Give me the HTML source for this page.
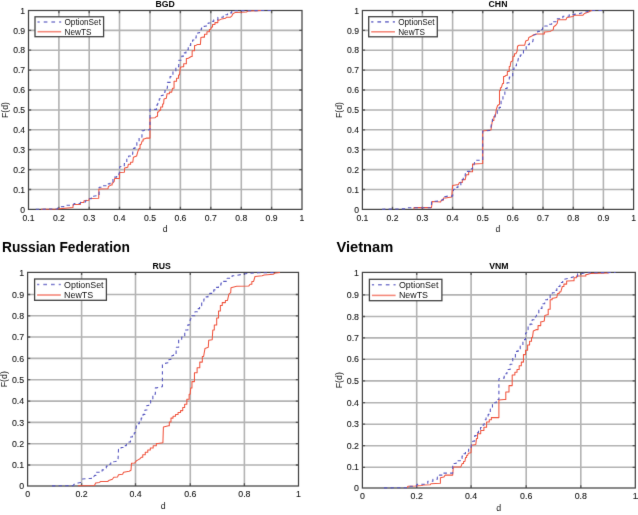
<!DOCTYPE html>
<html><head><meta charset="utf-8"><title>CDF plots</title>
<style>
html,body{margin:0;padding:0;background:#fff;}
body{width:638px;height:515px;overflow:hidden;}
svg{display:block;font-family:"Liberation Sans",sans-serif;}
</style></head><body>
<svg width="638" height="515" viewBox="0 0 638 515">
<defs><filter id="soft" x="0" y="0" width="100%" height="100%" color-interpolation-filters="sRGB"><feConvolveMatrix order="3" kernelMatrix="0.00524 0.06192 0.00524 0.06192 0.73137 0.06192 0.00524 0.06192 0.00524" edgeMode="duplicate" preserveAlpha="false"/></filter></defs>
<rect width="638" height="515" fill="#fff"/>
<g filter="url(#soft)">
<path d="M58.9 10.5V209.4M89.2 10.5V209.4M119.5 10.5V209.4M150.0 10.5V209.4M180.4 10.5V209.4M210.8 10.5V209.4M241.3 10.5V209.4M271.6 10.5V209.4M28.5 189.5H302.0M28.5 169.6H302.0M28.5 149.6H302.0M28.5 129.8H302.0M28.5 110.0H302.0M28.5 90.0H302.0M28.5 70.1H302.0M28.5 50.2H302.0M28.5 30.4H302.0" stroke="#b3b3b3" stroke-width="1.6" fill="none"/>
<path d="M58.9 209.4v-2.7M58.9 10.5v2.7M89.2 209.4v-2.7M89.2 10.5v2.7M119.5 209.4v-2.7M119.5 10.5v2.7M150.0 209.4v-2.7M150.0 10.5v2.7M180.4 209.4v-2.7M180.4 10.5v2.7M210.8 209.4v-2.7M210.8 10.5v2.7M241.3 209.4v-2.7M241.3 10.5v2.7M271.6 209.4v-2.7M271.6 10.5v2.7M28.5 189.5h2.7M302.0 189.5h-2.7M28.5 169.6h2.7M302.0 169.6h-2.7M28.5 149.6h2.7M302.0 149.6h-2.7M28.5 129.8h2.7M302.0 129.8h-2.7M28.5 110.0h2.7M302.0 110.0h-2.7M28.5 90.0h2.7M302.0 90.0h-2.7M28.5 70.1h2.7M302.0 70.1h-2.7M28.5 50.2h2.7M302.0 50.2h-2.7M28.5 30.4h2.7M302.0 30.4h-2.7" stroke="#5a5a5a" stroke-width="1.3" fill="none"/>
<rect x="28.5" y="10.5" width="273.5" height="198.9" fill="none" stroke="#444444" stroke-width="1.25"/>
<polyline points="41.00,209.30 57.00,209.00 73.00,207.50 73.00,204.60 80.40,204.50 80.60,202.60 83.80,202.50 84.00,200.70 88.90,200.30 89.30,198.40 98.70,198.20 98.90,189.00 108.00,188.70 108.40,186.50 111.30,184.90 112.10,184.90 112.10,182.90 112.90,182.90 114.20,181.40 114.60,178.60 119.50,178.40 119.60,172.40 124.40,172.20 124.60,168.00 127.70,167.30 128.40,164.20 130.60,164.20 130.60,162.30 132.80,162.30 133.40,157.20 136.60,156.00 137.80,151.60 139.10,148.40 140.05,148.40 140.05,144.60 141.00,144.60 142.20,140.90 143.15,140.90 143.15,139.00 144.10,139.00 146.70,138.10 150.00,138.10 150.00,118.00 155.10,117.70 156.60,116.30 157.55,116.30 157.55,112.00 158.50,112.00 159.70,110.10 160.67,110.10 160.67,107.00 162.62,107.00 162.62,103.90 163.60,103.90 164.00,99.10 166.30,98.30 167.10,93.70 169.40,93.70 169.40,92.10 171.70,92.10 172.50,88.30 174.05,88.30 174.05,81.30 175.60,81.30 176.57,81.30 176.57,78.15 178.53,78.15 178.53,75.00 179.50,75.00 180.40,67.30 182.50,66.70 183.70,66.70 183.70,63.70 184.90,63.70 186.35,63.70 186.35,58.50 187.80,58.50 188.70,58.00 191.20,56.50 192.15,56.50 192.15,50.70 193.10,50.70 194.55,50.70 194.55,45.40 196.00,45.40 197.50,44.40 200.40,44.40 200.90,37.60 203.30,37.10 204.50,37.10 204.50,34.20 205.70,34.20 206.95,34.20 206.95,31.80 208.20,31.80 209.40,31.80 209.40,29.40 210.60,29.40 211.60,26.90 212.55,26.90 212.55,24.50 213.50,24.50 214.95,24.50 214.95,22.60 216.40,22.60 217.85,22.60 217.85,20.10 219.30,20.10 221.70,18.90 225.60,18.20 226.60,17.20 230.50,17.20 231.90,15.80 232.90,13.80 235.30,12.40 246.50,12.00 247.90,11.10 261.00,10.50" fill="none" stroke="#f0553f" stroke-width="1.05" stroke-linejoin="round"/>
<polyline points="35.80,209.30 57.50,208.90 58.50,206.80 65.50,206.60 66.00,205.30 73.50,205.20 74.00,203.60 80.20,203.40 80.60,202.20 85.50,202.00 86.00,200.40 88.40,200.00 89.30,198.80 91.30,198.80 91.30,196.20 93.30,196.20 99.10,195.50 99.10,187.30 102.75,187.30 102.75,185.70 106.40,185.70 107.62,185.70 107.62,183.85 110.08,183.85 110.08,182.00 111.30,182.00 112.95,182.00 112.95,177.10 114.60,177.10 116.65,177.10 116.65,174.70 118.70,174.70 119.50,172.20 119.70,166.70 122.70,166.40 124.30,166.40 124.30,163.50 125.90,163.50 126.80,163.50 126.80,157.90 127.70,157.90 128.65,157.90 128.65,156.00 130.55,156.00 130.55,154.10 131.50,154.10 132.75,154.10 132.75,148.40 134.00,148.40 134.95,148.40 134.95,145.25 136.85,145.25 136.85,142.10 137.80,142.10 139.10,142.10 139.10,137.10 140.40,137.10 141.95,137.10 141.95,130.80 143.50,130.80 144.80,130.10 150.00,129.80 150.00,109.40 155.50,109.40 156.50,109.40 156.50,105.10 157.50,105.10 158.10,102.20 159.25,102.20 159.25,98.70 160.40,98.70 161.28,98.70 161.28,95.50 163.03,95.50 163.03,92.30 163.90,92.30 165.05,92.30 165.05,88.20 166.20,88.20 167.40,88.20 167.40,82.40 168.60,82.40 170.05,82.40 170.05,76.60 171.50,76.60 172.95,76.60 172.95,71.90 174.40,71.90 175.85,71.90 175.85,66.70 177.30,66.70 178.75,66.70 178.75,60.20 180.20,60.20 181.80,60.20 181.80,56.10 183.40,56.10 184.25,56.10 184.25,52.90 185.95,52.90 185.95,49.70 186.80,49.70 188.25,49.70 188.25,45.40 189.70,45.40 190.67,45.40 190.67,42.70 192.62,42.70 192.62,40.00 193.60,40.00 194.45,40.00 194.45,37.85 196.15,37.85 196.15,35.70 197.00,35.70 197.85,35.70 197.85,32.75 199.55,32.75 199.55,29.80 200.40,29.80 201.38,29.80 201.38,28.10 203.33,28.10 203.33,26.40 204.30,26.40 206.20,26.00 208.15,26.00 208.15,23.00 210.10,23.00 211.32,23.00 211.32,21.35 213.78,21.35 213.78,19.70 215.00,19.70 217.90,19.70 217.90,17.20 220.80,17.20 223.20,17.20 223.20,14.80 225.60,14.80 227.55,14.80 227.55,12.90 229.50,12.90 231.70,12.90 231.70,10.70 233.90,10.70 274.00,10.50" fill="none" stroke="#5858c0" stroke-width="1.1" stroke-dasharray="3.4,3.2" stroke-linejoin="round"/>
<g font-size="8.6" fill="#141414" stroke="#141414" stroke-width="0.1"><text x="28.5" y="220.7" text-anchor="middle">0.1</text><text x="58.9" y="220.7" text-anchor="middle">0.2</text><text x="89.2" y="220.7" text-anchor="middle">0.3</text><text x="119.5" y="220.7" text-anchor="middle">0.4</text><text x="150.0" y="220.7" text-anchor="middle">0.5</text><text x="180.4" y="220.7" text-anchor="middle">0.6</text><text x="210.8" y="220.7" text-anchor="middle">0.7</text><text x="241.3" y="220.7" text-anchor="middle">0.8</text><text x="271.6" y="220.7" text-anchor="middle">0.9</text><text x="302.0" y="220.7" text-anchor="middle">1</text><text x="25.1" y="212.5" text-anchor="end">0</text><text x="25.1" y="192.6" text-anchor="end">0.1</text><text x="25.1" y="172.7" text-anchor="end">0.2</text><text x="25.1" y="152.7" text-anchor="end">0.3</text><text x="25.1" y="132.9" text-anchor="end">0.4</text><text x="25.1" y="113.1" text-anchor="end">0.5</text><text x="25.1" y="93.1" text-anchor="end">0.6</text><text x="25.1" y="73.2" text-anchor="end">0.7</text><text x="25.1" y="53.3" text-anchor="end">0.8</text><text x="25.1" y="33.5" text-anchor="end">0.9</text><text x="25.1" y="13.6" text-anchor="end">1</text></g>
<text x="165.2" y="232.0" text-anchor="middle" font-size="8.6" fill="#141414">d</text>
<text transform="translate(7.7,110.0) rotate(-90)" text-anchor="middle" font-size="8.6" fill="#141414">F(d)</text>
<text x="165.2" y="6.6" text-anchor="middle" font-size="8.7" font-weight="bold" fill="#000">BGD</text>
<rect x="35.0" y="16.8" width="68.6" height="19.9" fill="#fff" stroke="#444444" stroke-width="1.3"/>
<path d="M37.5 22.0H61.2" stroke="#8080d0" stroke-width="1.6" stroke-dasharray="3.7,4" stroke-dashoffset="1.5"/>
<path d="M37.5 31.7H61.2" stroke="#f58a7c" stroke-width="1.6"/>
<text x="64.5" y="25.0" font-size="8.2" fill="#111">OptionSet</text>
<text x="64.5" y="34.7" font-size="8.2" fill="#111">NewTS</text>
<path d="M392.5 10.5V209.4M422.4 10.5V209.4M452.6 10.5V209.4M482.7 10.5V209.4M512.8 10.5V209.4M543.0 10.5V209.4M573.3 10.5V209.4M603.4 10.5V209.4M362.4 189.5H633.6M362.4 169.6H633.6M362.4 149.6H633.6M362.4 129.8H633.6M362.4 110.0H633.6M362.4 90.0H633.6M362.4 70.1H633.6M362.4 50.2H633.6M362.4 30.4H633.6" stroke="#b3b3b3" stroke-width="1.6" fill="none"/>
<path d="M392.5 209.4v-2.7M392.5 10.5v2.7M422.4 209.4v-2.7M422.4 10.5v2.7M452.6 209.4v-2.7M452.6 10.5v2.7M482.7 209.4v-2.7M482.7 10.5v2.7M512.8 209.4v-2.7M512.8 10.5v2.7M543.0 209.4v-2.7M543.0 10.5v2.7M573.3 209.4v-2.7M573.3 10.5v2.7M603.4 209.4v-2.7M603.4 10.5v2.7M362.4 189.5h2.7M633.6 189.5h-2.7M362.4 169.6h2.7M633.6 169.6h-2.7M362.4 149.6h2.7M633.6 149.6h-2.7M362.4 129.8h2.7M633.6 129.8h-2.7M362.4 110.0h2.7M633.6 110.0h-2.7M362.4 90.0h2.7M633.6 90.0h-2.7M362.4 70.1h2.7M633.6 70.1h-2.7M362.4 50.2h2.7M633.6 50.2h-2.7M362.4 30.4h2.7M633.6 30.4h-2.7" stroke="#5a5a5a" stroke-width="1.3" fill="none"/>
<rect x="362.4" y="10.5" width="271.2" height="198.9" fill="none" stroke="#444444" stroke-width="1.25"/>
<polyline points="414.00,209.20 414.00,207.60 431.50,207.60 432.20,201.50 440.60,202.00 441.30,200.10 443.40,200.10 443.40,198.00 445.50,198.00 451.70,197.10 452.60,185.40 458.40,184.50 459.40,182.50 462.30,182.50 462.30,179.60 465.20,179.60 466.20,174.80 468.65,174.80 468.65,171.80 471.10,171.80 472.55,171.80 472.55,164.10 474.00,164.10 482.70,163.50 482.70,131.10 490.90,130.10 492.40,120.40 493.85,120.40 493.85,116.50 495.30,116.50 496.30,109.30 497.60,105.50 499.50,104.20 499.50,90.40 500.40,90.40 500.40,87.80 501.30,87.80 502.60,83.40 503.55,83.40 503.55,76.50 504.50,76.50 506.40,75.20 507.35,75.20 507.35,71.40 508.30,71.40 509.25,71.40 509.25,66.40 510.20,66.40 510.80,62.00 512.70,60.70 513.00,56.30 514.45,56.30 514.45,53.80 515.90,53.80 517.10,51.30 517.50,46.20 519.10,45.20 524.70,45.20 525.70,41.10 528.20,40.10 528.80,37.50 531.80,36.00 533.30,35.00 535.90,33.90 543.50,33.90 544.30,33.90 544.30,31.90 545.10,31.90 550.20,31.40 553.20,29.90 553.70,26.80 555.80,25.30 557.30,23.20 557.80,19.70 565.90,19.70 567.00,17.60 573.10,16.60 574.10,15.30 583.00,15.20 584.40,13.50 588.70,12.10 590.80,10.70 593.00,10.50" fill="none" stroke="#f0553f" stroke-width="1.05" stroke-linejoin="round"/>
<polyline points="382.00,209.20 407.00,208.80 407.80,207.80 431.50,207.80 431.50,201.50 435.70,201.30 441.30,200.80 442.70,199.40 444.10,199.40 444.10,196.60 445.50,196.60 447.80,196.10 452.60,196.10 453.60,189.30 455.05,189.30 455.05,187.35 457.95,187.35 457.95,185.40 459.40,185.40 460.85,185.40 460.85,179.60 462.30,179.60 463.27,179.60 463.27,176.70 465.23,176.70 465.23,173.80 466.20,173.80 467.43,173.80 467.43,171.35 469.88,171.35 469.88,168.90 471.10,168.90 472.55,168.90 472.55,165.00 474.00,165.00 475.00,160.20 482.70,160.20 482.70,131.10 490.50,130.50 491.50,123.30 492.45,123.30 492.45,118.40 493.40,118.40 494.85,118.40 494.85,113.60 496.30,113.60 497.25,113.60 497.25,110.50 499.15,110.50 499.15,107.40 500.10,107.40 501.05,107.40 501.05,101.10 502.00,101.10 502.95,101.10 502.95,95.40 503.90,95.40 504.85,95.40 504.85,88.50 505.80,88.50 507.05,88.50 507.05,82.80 508.30,82.80 509.30,82.80 509.30,77.10 510.30,77.10 512.70,77.10 512.70,69.50 513.95,69.50 513.95,65.80 515.20,65.80 516.45,65.80 516.45,62.00 517.70,62.00 518.40,58.20 520.30,58.20 520.30,55.00 522.20,55.00 523.45,55.00 523.45,50.60 524.70,50.60 526.20,50.60 526.20,44.60 527.70,44.60 529.35,44.60 529.35,42.50 531.00,42.50 532.80,41.60 533.80,35.00 535.90,34.50 537.70,34.50 537.70,31.40 539.50,31.40 540.50,31.40 540.50,29.60 542.50,29.60 542.50,27.80 543.50,27.80 544.77,27.80 544.77,26.05 547.33,26.05 547.33,24.30 548.60,24.30 551.65,24.30 551.65,21.70 554.70,21.70 557.25,21.70 557.25,18.70 559.80,18.70 562.85,18.70 562.85,16.30 565.90,16.30 569.25,16.30 569.25,14.60 572.60,14.60 579.20,13.60 584.40,12.30 588.70,11.30 592.20,10.50 604.00,10.50" fill="none" stroke="#5858c0" stroke-width="1.1" stroke-dasharray="3.4,3.2" stroke-linejoin="round"/>
<g font-size="8.6" fill="#141414" stroke="#141414" stroke-width="0.1"><text x="362.4" y="220.7" text-anchor="middle">0.1</text><text x="392.5" y="220.7" text-anchor="middle">0.2</text><text x="422.4" y="220.7" text-anchor="middle">0.3</text><text x="452.6" y="220.7" text-anchor="middle">0.4</text><text x="482.7" y="220.7" text-anchor="middle">0.5</text><text x="512.8" y="220.7" text-anchor="middle">0.6</text><text x="543.0" y="220.7" text-anchor="middle">0.7</text><text x="573.3" y="220.7" text-anchor="middle">0.8</text><text x="603.4" y="220.7" text-anchor="middle">0.9</text><text x="633.6" y="220.7" text-anchor="middle">1</text><text x="359.0" y="212.5" text-anchor="end">0</text><text x="359.0" y="192.6" text-anchor="end">0.1</text><text x="359.0" y="172.7" text-anchor="end">0.2</text><text x="359.0" y="152.7" text-anchor="end">0.3</text><text x="359.0" y="132.9" text-anchor="end">0.4</text><text x="359.0" y="113.1" text-anchor="end">0.5</text><text x="359.0" y="93.1" text-anchor="end">0.6</text><text x="359.0" y="73.2" text-anchor="end">0.7</text><text x="359.0" y="53.3" text-anchor="end">0.8</text><text x="359.0" y="33.5" text-anchor="end">0.9</text><text x="359.0" y="13.6" text-anchor="end">1</text></g>
<text x="498.0" y="232.0" text-anchor="middle" font-size="8.6" fill="#141414">d</text>
<text transform="translate(341.6,110.0) rotate(-90)" text-anchor="middle" font-size="8.6" fill="#141414">F(d)</text>
<text x="498.0" y="6.6" text-anchor="middle" font-size="8.7" font-weight="bold" fill="#000">CHN</text>
<rect x="368.7" y="16.7" width="68.6" height="20.1" fill="#fff" stroke="#444444" stroke-width="1.3"/>
<path d="M371.2 21.9H394.9" stroke="#8080d0" stroke-width="1.6" stroke-dasharray="3.7,4" stroke-dashoffset="1.5"/>
<path d="M371.2 31.8H394.9" stroke="#f58a7c" stroke-width="1.6"/>
<text x="398.2" y="24.9" font-size="8.2" fill="#111">OptionSet</text>
<text x="398.2" y="34.8" font-size="8.2" fill="#111">NewTS</text>
<path d="M81.6 272.4V486.0M135.5 272.4V486.0M190.3 272.4V486.0M244.4 272.4V486.0M27.6 465.0H298.5M27.6 443.7H298.5M27.6 422.4H298.5M27.6 401.1H298.5M27.6 379.7H298.5M27.6 358.4H298.5M27.6 337.0H298.5M27.6 315.8H298.5M27.6 294.5H298.5" stroke="#b3b3b3" stroke-width="1.6" fill="none"/>
<path d="M81.6 486.0v-2.7M81.6 272.4v2.7M135.5 486.0v-2.7M135.5 272.4v2.7M190.3 486.0v-2.7M190.3 272.4v2.7M244.4 486.0v-2.7M244.4 272.4v2.7M27.6 465.0h2.7M298.5 465.0h-2.7M27.6 443.7h2.7M298.5 443.7h-2.7M27.6 422.4h2.7M298.5 422.4h-2.7M27.6 401.1h2.7M298.5 401.1h-2.7M27.6 379.7h2.7M298.5 379.7h-2.7M27.6 358.4h2.7M298.5 358.4h-2.7M27.6 337.0h2.7M298.5 337.0h-2.7M27.6 315.8h2.7M298.5 315.8h-2.7M27.6 294.5h2.7M298.5 294.5h-2.7" stroke="#5a5a5a" stroke-width="1.3" fill="none"/>
<rect x="27.6" y="272.4" width="270.9" height="213.6" fill="none" stroke="#444444" stroke-width="1.25"/>
<polyline points="77.90,485.80 94.50,485.40 95.60,483.10 99.30,482.40 100.70,481.50 107.70,481.50 108.70,480.60 112.40,479.20 113.80,477.30 117.50,477.10 118.50,474.70 122.60,474.30 123.60,472.20 129.20,471.30 131.00,470.30 131.50,463.30 134.80,462.90 136.20,461.00 137.60,460.10 140.00,458.70 141.50,457.20 142.75,457.20 142.75,454.70 145.25,454.70 145.25,452.20 146.50,452.20 147.78,452.20 147.78,450.05 150.32,450.05 150.32,447.90 151.60,447.90 153.18,447.90 153.18,445.65 156.32,445.65 156.32,443.40 157.90,443.40 162.90,442.80 163.40,427.00 168.50,425.70 169.32,425.70 169.32,421.90 170.98,421.90 170.98,418.10 171.80,418.10 173.05,418.10 173.05,416.25 175.55,416.25 175.55,414.40 176.80,414.40 178.05,414.40 178.05,412.50 180.55,412.50 180.55,410.60 181.80,410.60 182.75,410.60 182.75,407.45 184.65,407.45 184.65,404.30 185.60,404.30 186.85,404.30 186.85,399.20 188.10,399.20 189.15,399.20 189.15,394.20 190.20,394.20 190.70,387.90 191.95,387.90 191.95,381.60 193.20,381.60 194.45,381.60 194.45,372.80 195.70,372.80 197.10,372.80 197.10,367.70 198.50,367.70 199.78,367.70 199.78,362.10 202.32,362.10 202.32,356.50 203.60,356.50 205.00,348.40 208.30,347.30 208.70,340.20 212.20,339.80 212.80,330.00 214.30,330.00 214.30,324.90 215.80,324.90 216.70,324.90 216.70,318.00 217.60,318.00 218.55,318.00 218.55,311.00 219.50,311.00 220.35,311.00 220.35,305.40 221.20,305.40 222.25,305.40 222.25,302.60 223.30,302.60 225.40,302.60 225.40,300.40 227.50,300.40 228.90,294.10 230.70,292.70 231.00,287.70 236.70,286.30 248.70,286.10 250.10,284.20 251.85,284.20 251.85,281.40 253.60,281.40 255.00,276.50 262.10,275.80 264.20,275.00 273.30,274.30 275.50,272.90 280.00,272.60" fill="none" stroke="#f0553f" stroke-width="1.05" stroke-linejoin="round"/>
<polyline points="52.00,485.90 73.00,485.60 74.50,484.00 78.00,483.00 80.50,482.50 81.50,480.50 82.50,479.00 89.00,478.50 91.35,478.50 91.35,476.80 93.70,476.80 94.70,475.40 95.85,475.40 95.85,472.20 97.00,472.20 100.70,472.20 102.10,472.20 102.10,469.90 103.50,469.90 104.90,468.00 106.30,468.00 106.30,466.10 107.70,466.10 108.65,466.10 108.65,464.30 109.60,464.30 110.75,464.30 110.75,461.90 111.90,461.90 115.20,461.50 118.00,460.90 118.50,449.30 121.05,449.30 121.05,447.50 123.60,447.50 124.50,447.50 124.50,445.60 125.40,445.60 126.35,445.60 126.35,442.80 127.30,442.80 129.60,441.90 130.50,441.90 130.50,437.00 131.40,437.00 132.35,437.00 132.35,434.90 134.25,434.90 134.25,432.80 135.20,432.80 136.50,425.70 137.43,425.70 137.43,423.80 139.27,423.80 139.27,421.90 140.20,421.90 141.15,421.90 141.15,418.15 143.05,418.15 143.05,414.40 144.00,414.40 144.95,414.40 144.95,409.95 146.85,409.95 146.85,405.50 147.80,405.50 148.75,405.50 148.75,403.00 150.65,403.00 150.65,400.50 151.60,400.50 152.85,400.50 152.85,394.20 154.10,394.20 155.35,394.20 155.35,387.90 156.60,387.90 162.40,386.60 162.40,364.00 168.00,362.70 168.95,362.70 168.95,359.55 170.85,359.55 170.85,356.40 171.80,356.40 172.00,355.50 173.55,355.50 173.55,353.40 175.10,353.40 176.10,353.40 176.10,347.30 177.10,347.30 178.65,347.30 178.65,339.20 180.20,339.20 181.70,339.20 181.70,337.10 183.20,337.10 184.75,337.10 184.75,330.00 186.30,330.00 187.85,330.00 187.85,324.90 189.40,324.90 190.40,318.80 191.90,318.80 191.90,315.80 193.40,315.80 194.95,315.80 194.95,311.70 196.50,311.70 197.53,311.70 197.53,308.65 199.57,308.65 199.57,305.60 200.60,305.60 201.70,305.60 201.70,301.10 202.80,301.10 203.88,301.10 203.88,299.00 206.03,299.00 206.03,296.90 207.10,296.90 207.97,296.90 207.97,295.15 209.72,295.15 209.72,293.40 210.60,293.40 211.65,293.40 211.65,291.65 213.75,291.65 213.75,289.90 214.80,289.90 216.03,289.90 216.03,287.40 218.47,287.40 218.47,284.90 219.70,284.90 220.95,284.90 220.95,283.15 223.45,283.15 223.45,281.40 224.70,281.40 227.15,281.40 227.15,278.20 229.60,278.20 232.10,278.20 232.10,275.80 234.60,275.80 242.30,274.30 248.00,273.40 258.00,272.80 276.00,272.60" fill="none" stroke="#5858c0" stroke-width="1.1" stroke-dasharray="3.4,3.2" stroke-linejoin="round"/>
<g font-size="8.8" fill="#141414" stroke="#141414" stroke-width="0.1"><text x="27.6" y="497.3" text-anchor="middle">0</text><text x="81.6" y="497.3" text-anchor="middle">0.2</text><text x="135.5" y="497.3" text-anchor="middle">0.4</text><text x="190.3" y="497.3" text-anchor="middle">0.6</text><text x="244.4" y="497.3" text-anchor="middle">0.8</text><text x="298.5" y="497.3" text-anchor="middle">1</text><text x="24.2" y="489.1" text-anchor="end">0</text><text x="24.2" y="468.1" text-anchor="end">0.1</text><text x="24.2" y="446.8" text-anchor="end">0.2</text><text x="24.2" y="425.5" text-anchor="end">0.3</text><text x="24.2" y="404.2" text-anchor="end">0.4</text><text x="24.2" y="382.8" text-anchor="end">0.5</text><text x="24.2" y="361.5" text-anchor="end">0.6</text><text x="24.2" y="340.1" text-anchor="end">0.7</text><text x="24.2" y="318.9" text-anchor="end">0.8</text><text x="24.2" y="297.6" text-anchor="end">0.9</text><text x="24.2" y="275.5" text-anchor="end">1</text></g>
<text x="163.1" y="508.6" text-anchor="middle" font-size="8.8" fill="#141414">d</text>
<text transform="translate(6.8,379.2) rotate(-90)" text-anchor="middle" font-size="8.8" fill="#141414">F(d)</text>
<text x="161.7" y="268.5" text-anchor="middle" font-size="8.7" font-weight="bold" fill="#000">RUS</text>
<rect x="34.6" y="279.0" width="71.8" height="21.3" fill="#fff" stroke="#444444" stroke-width="1.3"/>
<path d="M37.1 284.5H60.8" stroke="#8080d0" stroke-width="1.6" stroke-dasharray="3.7,4" stroke-dashoffset="1.5"/>
<path d="M37.1 295.0H60.8" stroke="#f58a7c" stroke-width="1.6"/>
<text x="64.1" y="287.5" font-size="8.9" fill="#111">OptionSet</text>
<text x="64.1" y="298.0" font-size="8.9" fill="#111">NewTS</text>
<path d="M416.7 272.4V488.0M471.1 272.4V488.0M526.2 272.4V488.0M580.8 272.4V488.0M362.4 467.3H635.3M362.4 445.7H635.3M362.4 424.2H635.3M362.4 402.7H635.3M362.4 380.9H635.3M362.4 359.3H635.3M362.4 337.9H635.3M362.4 316.5H635.3M362.4 294.9H635.3" stroke="#b3b3b3" stroke-width="1.6" fill="none"/>
<path d="M416.7 488.0v-2.7M416.7 272.4v2.7M471.1 488.0v-2.7M471.1 272.4v2.7M526.2 488.0v-2.7M526.2 272.4v2.7M580.8 488.0v-2.7M580.8 272.4v2.7M362.4 467.3h2.7M635.3 467.3h-2.7M362.4 445.7h2.7M635.3 445.7h-2.7M362.4 424.2h2.7M635.3 424.2h-2.7M362.4 402.7h2.7M635.3 402.7h-2.7M362.4 380.9h2.7M635.3 380.9h-2.7M362.4 359.3h2.7M635.3 359.3h-2.7M362.4 337.9h2.7M635.3 337.9h-2.7M362.4 316.5h2.7M635.3 316.5h-2.7M362.4 294.9h2.7M635.3 294.9h-2.7" stroke="#5a5a5a" stroke-width="1.3" fill="none"/>
<rect x="362.4" y="272.4" width="272.9" height="215.6" fill="none" stroke="#444444" stroke-width="1.25"/>
<polyline points="407.30,487.90 407.80,486.30 415.30,486.10 421.70,485.60 423.30,484.90 430.20,484.80 430.90,483.70 440.40,483.30 440.40,477.80 443.80,477.10 445.20,475.10 452.70,475.10 453.30,466.90 460.80,466.90 462.20,463.50 463.55,463.50 463.55,461.50 464.90,461.50 465.60,457.40 466.60,457.40 466.60,455.40 467.60,455.40 468.30,453.30 471.00,452.70 471.40,445.20 475.80,444.50 476.50,438.40 477.55,438.40 477.55,433.70 478.60,433.70 480.70,433.70 480.70,430.50 482.80,430.50 483.90,430.50 483.90,427.30 485.00,427.30 486.60,427.30 486.60,421.90 488.20,421.90 489.25,421.90 489.25,419.75 491.35,419.75 491.35,417.60 492.40,417.60 498.90,417.60 498.90,399.90 504.20,399.50 505.80,399.50 505.80,392.00 507.40,392.00 509.00,392.00 509.00,385.60 510.60,385.60 512.20,385.60 512.20,374.90 513.80,374.90 514.88,374.90 514.88,372.20 517.02,372.20 517.02,369.50 518.10,369.50 519.17,369.50 519.17,365.80 521.33,365.80 521.33,362.10 522.40,362.10 523.45,362.10 523.45,354.60 524.50,354.60 525.55,354.60 525.55,350.30 526.60,350.30 527.60,350.30 527.60,344.90 528.60,344.90 529.58,344.90 529.58,341.15 531.52,341.15 531.52,337.40 532.50,337.40 533.30,331.10 536.50,329.60 538.05,329.60 538.05,325.60 539.60,325.60 540.75,325.60 540.75,321.70 541.90,321.70 544.30,320.90 544.80,315.50 547.40,314.70 548.20,314.70 548.20,309.20 549.00,309.20 550.15,309.20 550.15,299.80 551.30,299.80 552.10,299.80 552.10,298.20 552.90,298.20 556.80,297.40 557.60,293.50 559.20,293.50 559.20,291.90 560.80,291.90 562.30,286.50 563.90,286.50 563.90,284.10 565.50,284.10 566.65,284.10 566.65,281.00 567.80,281.00 572.50,280.70 574.05,280.70 574.05,277.80 575.60,277.80 576.40,277.80 576.40,276.00 577.20,276.00 584.30,276.00 585.85,276.00 585.85,274.40 587.40,274.40 590.50,273.40 608.60,273.10" fill="none" stroke="#f0553f" stroke-width="1.05" stroke-linejoin="round"/>
<polyline points="383.90,487.90 406.50,487.70 407.30,486.30 416.50,486.10 416.90,484.40 424.90,484.20 426.10,483.90 427.80,483.90 427.80,481.20 429.50,481.20 432.90,481.20 432.90,479.20 436.30,479.20 437.32,479.20 437.32,477.15 439.38,477.15 439.38,475.10 440.40,475.10 442.80,475.10 442.80,473.10 445.20,473.10 452.70,473.10 452.70,463.50 456.10,463.50 456.10,460.80 459.50,460.80 460.35,460.80 460.35,458.45 462.05,458.45 462.05,456.10 462.90,456.10 463.75,456.10 463.75,453.70 465.45,453.70 465.45,451.30 466.30,451.30 468.65,451.30 468.65,448.60 471.00,448.60 471.70,441.80 473.70,441.10 474.75,441.10 474.75,435.60 475.80,435.60 476.70,435.60 476.70,432.70 478.50,432.70 478.50,429.80 479.40,429.80 480.52,429.80 480.52,427.45 482.77,427.45 482.77,425.10 483.90,425.10 485.00,419.80 486.05,419.80 486.05,417.10 488.15,417.10 488.15,414.40 489.20,414.40 490.30,414.40 490.30,409.10 491.40,409.10 492.45,409.10 492.45,402.70 493.50,402.70 496.20,402.70 496.20,399.50 498.90,399.50 498.90,378.70 503.10,378.10 504.20,378.10 504.20,373.80 505.30,373.80 506.90,373.80 506.90,369.50 508.50,369.50 510.10,369.50 510.10,364.20 511.70,364.20 512.75,364.20 512.75,357.80 513.80,357.80 515.40,357.80 515.40,351.40 517.00,351.40 518.08,351.40 518.08,348.70 520.22,348.70 520.22,346.00 521.30,346.00 522.90,346.00 522.90,339.60 524.50,339.60 525.55,339.60 525.55,333.00 526.60,333.00 527.10,329.60 528.08,329.60 528.08,326.85 530.02,326.85 530.02,324.10 531.00,324.10 532.15,324.10 532.15,319.80 533.30,319.80 534.50,319.80 534.50,317.00 535.70,317.00 537.20,313.90 538.80,313.90 538.80,308.40 540.40,308.40 541.95,308.40 541.95,303.70 543.50,303.70 544.70,303.70 544.70,299.80 545.90,299.80 547.45,299.80 547.45,298.20 549.00,298.20 550.15,298.20 550.15,295.10 551.30,295.10 552.30,295.10 552.30,292.75 554.30,292.75 554.30,290.40 555.30,290.40 556.85,290.40 556.85,286.50 558.40,286.50 559.95,286.50 559.95,282.50 561.50,282.50 562.70,282.50 562.70,279.40 563.90,279.40 568.60,278.20 574.90,276.60 577.60,276.60 577.60,273.90 580.30,273.90 585.80,272.80 615.60,272.50" fill="none" stroke="#5858c0" stroke-width="1.1" stroke-dasharray="3.4,3.2" stroke-linejoin="round"/>
<g font-size="8.8" fill="#141414" stroke="#141414" stroke-width="0.1"><text x="362.4" y="499.3" text-anchor="middle">0</text><text x="416.7" y="499.3" text-anchor="middle">0.2</text><text x="471.1" y="499.3" text-anchor="middle">0.4</text><text x="526.2" y="499.3" text-anchor="middle">0.6</text><text x="580.8" y="499.3" text-anchor="middle">0.8</text><text x="635.3" y="499.3" text-anchor="middle">1</text><text x="359.0" y="491.1" text-anchor="end">0</text><text x="359.0" y="470.4" text-anchor="end">0.1</text><text x="359.0" y="448.8" text-anchor="end">0.2</text><text x="359.0" y="427.3" text-anchor="end">0.3</text><text x="359.0" y="405.8" text-anchor="end">0.4</text><text x="359.0" y="384.0" text-anchor="end">0.5</text><text x="359.0" y="362.4" text-anchor="end">0.6</text><text x="359.0" y="341.0" text-anchor="end">0.7</text><text x="359.0" y="319.6" text-anchor="end">0.8</text><text x="359.0" y="298.0" text-anchor="end">0.9</text><text x="359.0" y="275.5" text-anchor="end">1</text></g>
<text x="498.8" y="510.6" text-anchor="middle" font-size="8.8" fill="#141414">d</text>
<text transform="translate(341.6,380.2) rotate(-90)" text-anchor="middle" font-size="8.8" fill="#141414">F(d)</text>
<text x="498.8" y="268.5" text-anchor="middle" font-size="8.7" font-weight="bold" fill="#000">VNM</text>
<rect x="369.4" y="279.3" width="72.5" height="21.4" fill="#fff" stroke="#444444" stroke-width="1.3"/>
<path d="M371.9 284.8H395.6" stroke="#8080d0" stroke-width="1.6" stroke-dasharray="3.7,4" stroke-dashoffset="1.5"/>
<path d="M371.9 295.4H395.6" stroke="#f58a7c" stroke-width="1.6"/>
<text x="398.9" y="287.8" font-size="8.9" fill="#111">OptionSet</text>
<text x="398.9" y="298.4" font-size="8.9" fill="#111">NewTS</text>
<text x="2.0" y="251.8" font-size="13.9" font-weight="bold" fill="#000" textLength="127.8" lengthAdjust="spacingAndGlyphs">Russian Federation</text>
<text x="336.4" y="251.8" font-size="13.9" font-weight="bold" fill="#000" textLength="56.8" lengthAdjust="spacingAndGlyphs">Vietnam</text>
</g>
</svg>
</body></html>
